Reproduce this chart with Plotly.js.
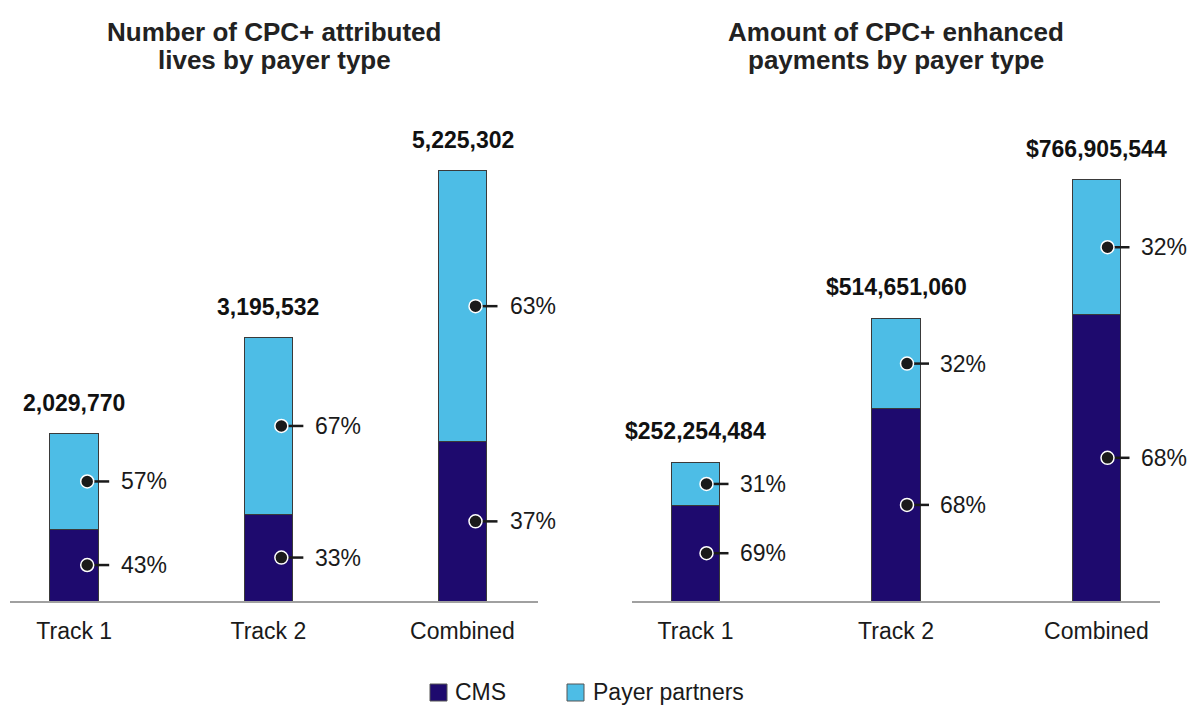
<!DOCTYPE html>
<html>
<head>
<meta charset="utf-8">
<script src="https://cdn.plot.ly/plotly-3.0.1.min.js"></script>
<style>
  html, body { margin: 0; padding: 0; background: #ffffff; }
  #chart { width: 1191px; height: 706px; }
</style>
</head>
<body>
<div id="chart"></div>
<script>
// ---------------- DATA ----------------
const categories = ['Track 1', 'Track 2', 'Combined'];
const seriesNames = ['CMS', 'Payer partners'];

const livesTotal = [2029770, 3195532, 5225302];
const livesCmsPct = [43, 33, 37];
const livesPayerPct = [57, 67, 63];

const payTotal = [252254484, 514651060, 766905544];
const payCmsPct = [69, 68, 68];
const payPayerPct = [31, 32, 32];

const leftTitleLines = ['Number of CPC+ attributed', 'lives by payer type'];
const rightTitleLines = ['Amount of CPC+ enhanced', 'payments by payer type'];

// ---------------- STYLE ----------------
const W = 1191, H = 706;
const NAVY = '#1e0a6e';
const LIGHT = '#4dbde6';
const OUTLINE = '#3a3a3a';
const TXT = '#1a1a1a';
const FONT = 'Liberation Sans, Arial, sans-serif';
const px = v => v / W;
const py = v => 1 - v / H;

const livesCms = livesTotal.map((t, i) => t * livesCmsPct[i] / 100);
const livesPayer = livesTotal.map((t, i) => t * livesPayerPct[i] / 100);
const payCms = payTotal.map((t, i) => t * payCmsPct[i] / 100);
const payPayer = payTotal.map((t, i) => t * payPayerPct[i] / 100);

function bar(y, color, name, xa, ya, w) {
  return {
    type: 'bar', x: categories, y: y, name: name,
    xaxis: xa, yaxis: ya, width: w,
    marker: { color: color, line: { color: OUTLINE, width: 1 } },
    showlegend: false, hoverinfo: 'skip'
  };
}

const data = [
  bar(livesCms, NAVY, seriesNames[0], 'x', 'y', 0.25),
  bar(livesPayer, LIGHT, seriesNames[1], 'x', 'y', 0.25),
  bar(payCms, NAVY, seriesNames[0], 'x2', 'y2', 0.2414),
  bar(payPayer, LIGHT, seriesNames[1], 'x2', 'y2', 0.2414)
];

const shapes = [];
const annotations = [];

function addPanel(cms, payer, cmsPct, payerPct, totals, totalFmt, xr, yr, dotOff, lineEnd, textOff) {
  categories.forEach((c, i) => {
    const segs = [
      { mid: cms[i] / 2, pct: cmsPct[i] },
      { mid: cms[i] + payer[i] / 2, pct: payerPct[i] }
    ];
    segs.forEach(s => {
      shapes.push({
        type: 'line', xref: xr, yref: yr,
        xsizemode: 'pixel', xanchor: i, x0: dotOff, x1: lineEnd,
        ysizemode: 'pixel', yanchor: s.mid, y0: 0, y1: 0,
        line: { color: TXT, width: 2.5 }
      });
      shapes.push({
        type: 'circle', xref: xr, yref: yr,
        xsizemode: 'pixel', xanchor: i, x0: dotOff - 6.5, x1: dotOff + 6.5,
        ysizemode: 'pixel', yanchor: s.mid, y0: -6.5, y1: 6.5,
        fillcolor: TXT, line: { color: '#ffffff', width: 1.5 }
      });
      annotations.push({
        xref: xr, yref: yr, x: i, y: s.mid, xshift: textOff,
        xanchor: 'left', yanchor: 'middle', showarrow: false,
        text: s.pct + '%', font: { family: FONT, size: 23, color: TXT }
      });
    });
    annotations.push({
      xref: xr, yref: yr, x: i, y: totals[i], yshift: 31,
      xanchor: 'center', yanchor: 'middle', showarrow: false,
      text: '<b>' + totalFmt(totals[i]) + '</b>',
      font: { family: FONT, size: 23, color: '#111111' }
    });
  });
}

const fmtNum = v => v.toLocaleString('en-US');
const fmtUsd = v => '$' + v.toLocaleString('en-US');

addPanel(livesCms, livesPayer, livesCmsPct, livesPayerPct, livesTotal, fmtNum, 'x', 'y', 13, 35, 45);
addPanel(payCms, payPayer, payCmsPct, payPayerPct, payTotal, fmtUsd, 'x2', 'y2', 11, 33, 42);

// Titles
[[leftTitleLines, 274], [rightTitleLines, 896]].forEach(([lines, cx]) => {
  lines.forEach((t, k) => {
    annotations.push({
      xref: 'paper', yref: 'paper', x: px(cx), y: py(k === 0 ? 32 : 60),
      xanchor: 'center', yanchor: 'middle', showarrow: false,
      text: '<b>' + t + '</b>', font: { family: FONT, size: 26, color: '#222222' }
    });
  });
});

// Legend (custom, to match the larger swatches)
const legendItems = [
  { name: seriesNames[0], color: NAVY, sx: 430, tx: 454 },
  { name: seriesNames[1], color: LIGHT, sx: 567, tx: 592 }
];
legendItems.forEach(it => {
  shapes.push({
    type: 'rect', xref: 'paper', yref: 'paper',
    x0: px(it.sx), x1: px(it.sx + 17), y0: py(701), y1: py(684),
    fillcolor: it.color, line: { color: '#555555', width: 1 }
  });
  annotations.push({
    xref: 'paper', yref: 'paper', x: px(it.tx), y: py(692),
    xanchor: 'left', yanchor: 'middle', showarrow: false,
    height: 26, borderpad: 0,
    text: it.name, font: { family: FONT, size: 23, color: TXT }
  });
});

const yTopPx = 100, yBasePx = 601;
const plotH = yBasePx - yTopPx;

const commonX = {
  type: 'category', showline: true, linecolor: '#a0a0a0', linewidth: 2,
  ticks: '', showgrid: false, zeroline: false, fixedrange: true,
  ticklabelstandoff: 8,
  tickfont: { family: FONT, size: 23, color: TXT }
};
const commonY = { visible: false, showgrid: false, zeroline: false, fixedrange: true,
  domain: [1 - yBasePx / H, 1 - yTopPx / H] };

const layout = {
  width: W, height: H,
  margin: { l: 0, r: 0, t: 0, b: 0 },
  paper_bgcolor: '#ffffff', plot_bgcolor: '#ffffff',
  barmode: 'stack', showlegend: false,
  font: { family: FONT, color: TXT },
  xaxis: Object.assign({}, commonX, { domain: [px(10), px(538)], range: [-0.3307, 2.3889], anchor: 'y' }),
  yaxis: Object.assign({}, commonY, { range: [0, plotH * 12140], anchor: 'x' }),
  xaxis2: Object.assign({}, commonX, { domain: [px(632), px(1160)], range: [-0.3167, 2.3167], anchor: 'y2' }),
  yaxis2: Object.assign({}, commonY, { range: [0, plotH * 1821000], anchor: 'x2' }),
  shapes: shapes,
  annotations: annotations
};

Plotly.newPlot('chart', data, layout, { displayModeBar: false, staticPlot: true });
</script>
</body>
</html>
